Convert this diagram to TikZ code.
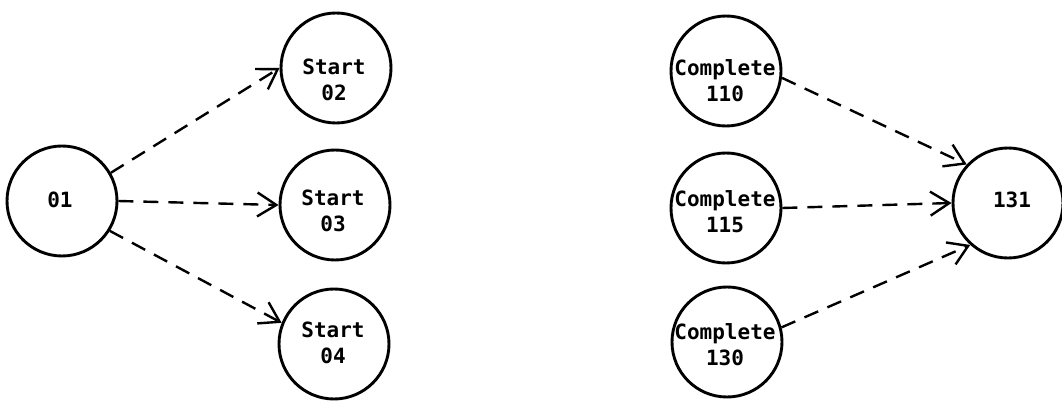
\documentclass[tikz,border=0pt]{standalone}
\usepackage{fontspec}
\setmainfont{DejaVu Sans Mono}
\usetikzlibrary{arrows.meta}
\begin{document}
\begin{tikzpicture}[x=0.5pt,y=-0.5pt,
  event/.style={circle,draw,line width=1.45pt,minimum size=55pt,inner sep=0pt},
  lbl/.style={align=center,inner sep=0pt,font=\fontsize{10.5}{13}\selectfont\bfseries},
  dep/.style={line width=1.2pt,dash pattern=on 7.5pt off 5pt,
    -{Straight Barb[length=9.5pt,width=12pt,line width=1.2pt]}}]
\useasboundingbox (0,0) rectangle (1062,401);
\node[event] (n01) at (62,201) {};
\node[lbl] (t01) at (60,200) {01};
\node[event] (s02) at (336,68) {};
\node[lbl] (t02) at (334,80) {Start\\02};
\node[event] (s03) at (335,205) {};
\node[lbl] (t03) at (333,211) {Start\\03};
\node[event] (s04) at (334,344) {};
\node[lbl] (t04) at (333,343) {Start\\04};
\node[event] (c110) at (726,71) {};
\node[lbl] (t110) at (725,81) {Complete\\110};
\node[event] (c115) at (726,208) {};
\node[lbl] (t115) at (725,212) {Complete\\115};
\node[event] (c130) at (727,342) {};
\node[lbl] (t130) at (725,345) {Complete\\130};
\node[event] (n131) at (1008,203) {};
\node[lbl] (t131) at (1012,200) {131};
\draw[dep] (n01.30) -- (s02.180);
\draw[dep] (n01.east) -- (s03.west);
\draw[dep] (n01.-32) -- (s04.158);
\draw[dep] (c110.-7) -- (n131.137);
\draw[dep] (c115.east) -- (n131.west);
\draw[dep] (c130.15) -- (n131.228);
\end{tikzpicture}
\end{document}
